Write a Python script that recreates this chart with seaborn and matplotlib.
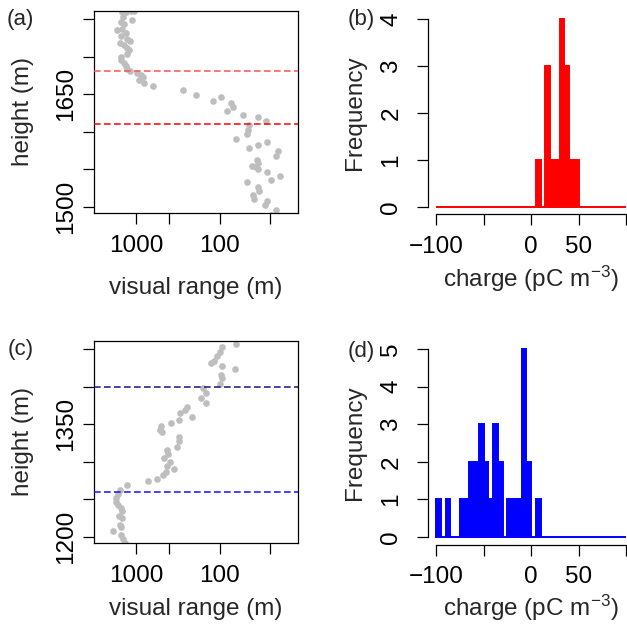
import numpy as np
import pandas as pd
import matplotlib
matplotlib.use("Agg")
import matplotlib.pyplot as plt
import seaborn as sns
from matplotlib.ticker import FixedLocator, NullLocator

# ---------------- data ----------------
# panel (a): visual range (m) vs height (m)
vis_a = [1472, 1340, 1167, 1066, 1432, 1117, 1538, 1403, 1690, 1472,
         1340, 1538, 1282, 1190, 1567, 1403, 1282, 1224, 1282, 1538,
         1513, 1403, 1340, 1282, 1190, 973, 885, 824, 928, 809,
         636, 278, 194, 120, 96, 74, 69, 81, 53, 35,
         28, 45, 46, 47, 63, 45, 35, 27, 20, 21,
         36, 41, 37, 35, 35, 27, 19, 24, 47, 35,
         34, 40, 39, 27, 29, 21, 24]
height_a = [1759, 1759, 1760, 1760, 1753, 1749, 1746, 1743, 1735, 1737,
            1731, 1727, 1724, 1721, 1718, 1715, 1712, 1709, 1704, 1700,
            1696, 1691, 1687, 1684, 1681, 1678, 1675, 1673, 1669, 1665,
            1661, 1655, 1649, 1641, 1646, 1638, 1633, 1627, 1622, 1619,
            1614, 1609, 1603, 1597, 1590, 1578, 1582, 1587, 1574, 1568,
            1563, 1555, 1553, 1558, 1550, 1546, 1541, 1536, 1533, 1526,
            1521, 1516, 1510, 1508, 1503, 1496, 1490]
layers_a = [1681, 1610]

# panel (c)
vis_c = [64, 93, 99, 107, 117, 126, 93, 66, 97, 94,
         99, 157, 147, 166, 147, 249, 263, 299, 213, 308,
         380, 510, 520, 488, 305, 308, 322, 432, 416, 465,
         395, 425, 353, 444, 474, 569, 724, 1304, 1567, 1657,
         1765, 1765, 1657, 1538, 1472, 1611, 1472, 1567, 1538, 1888,
         1538, 1432, 1378]
height_c = [1456, 1452, 1446, 1441, 1434, 1432, 1427, 1423, 1416, 1411,
            1404, 1398, 1391, 1385, 1378, 1373, 1369, 1365, 1360, 1355,
            1351, 1348, 1342, 1339, 1333, 1327, 1319, 1316, 1310, 1305,
            1300, 1294, 1290, 1287, 1283, 1277, 1274, 1269, 1263, 1257,
            1252, 1247, 1243, 1238, 1234, 1228, 1225, 1216, 1213, 1208,
            1203, 1197, 1192]
layers_c = [1400, 1260]

# panel (b) / (d): charge histograms (5 pC m^-3 bins, left edges and counts)
bin_left_b = [5, 15, 20, 25, 30, 35, 40, 45]
counts_b = [1, 3, 1, 1, 4, 3, 1, 1]
bin_left_d = [-100, -90, -75, -70, -65, -60, -55, -50, -45, -40, -35,
              -25, -20, -15, -10, -5, 5]
counts_d = [1, 1, 1, 1, 2, 2, 3, 2, 1, 3, 2, 1, 1, 1, 5, 2, 1]

vis_ticks = [1000, 400, 100, 25]
vis_ticklabels = ["1000", "", "100", ""]
yticks_a = [1500, 1550, 1600, 1650, 1700, 1750]
ylabels_a = ["1500", "", "", "1650", "", ""]
yticks_c = [1200, 1250, 1300, 1350, 1400, 1450]
ylabels_c = ["1200", "", "", "1350", "", ""]
charge_ticks = [-100, -50, 0, 50, 100]
charge_ticklabels = ["\u2212100", "", "0", "50", ""]

# ---------------- style ----------------
sns.set_theme(style="ticks")
plt.rcParams["font.family"] = ["Liberation Sans", "DejaVu Sans"]
plt.rcParams["mathtext.fontset"] = "custom"
plt.rcParams["mathtext.rm"] = "Liberation Sans"
plt.rcParams["mathtext.it"] = "Liberation Sans:italic"
plt.rcParams["mathtext.default"] = "regular"
plt.rcParams["lines.scale_dashes"] = False

FS = 17.5
GRAY = "#bebebe"
W = H = 627

fig = plt.figure(figsize=(6.27, 6.27), dpi=100)
fig.patch.set_facecolor("white")


def pos(l, t, r, b):
    return [l / W, 1 - b / H, (r - l) / W, (b - t) / H]


axA = fig.add_axes(pos(94, 11, 298, 213))
axB = fig.add_axes(pos(428.4, 11.5, 633.6, 214.5))
axC = fig.add_axes(pos(94, 341, 298, 543))
axD = fig.add_axes(pos(428.4, 341.5, 633.6, 544.5))


def scatter_panel(ax, vis, hgt, ylim, yticks, ylabels, layers, colors, xlab_y):
    sns.scatterplot(x=vis, y=hgt, ax=ax, color=GRAY, s=23, linewidth=0,
                    legend=False, zorder=2)
    ax.set_xscale("log")
    ax.set_xlim(10 ** 3.507, 10 ** 1.061)
    ax.set_ylim(*ylim)
    ax.xaxis.set_major_locator(FixedLocator(vis_ticks))
    ax.xaxis.set_minor_locator(NullLocator())
    ax.set_xticklabels(vis_ticklabels)
    ax.yaxis.set_major_locator(FixedLocator(yticks))
    ax.yaxis.set_minor_locator(NullLocator())
    ax.set_yticklabels(ylabels)
    for yv, c in zip(layers, colors):
        ax.axhline(yv, color=c, lw=1.1, ls=(0, (4.8, 2.4)), zorder=3)
    for s in ax.spines.values():
        s.set_linewidth(0.9)
        s.set_color("black")
        s.set_visible(True)
    ax.tick_params(axis="both", direction="out", length=7.7, width=0.9,
                   colors="black", labelsize=FS)
    ax.tick_params(axis="x", pad=8.0)
    ax.tick_params(axis="y", pad=4.8, labelrotation=90)
    for t in ax.get_yticklabels():
        t.set_va("center")
    ax.set_xlabel("visual range (m)", fontsize=FS)
    ax.set_ylabel("height (m)", fontsize=FS)
    ax.xaxis.set_label_coords(0.5, xlab_y)
    ax.yaxis.set_label_coords(-0.294, 0.5)
    ax.set_facecolor("white")


def hist_panel(ax, bin_left, counts, color, ymax, xlab_y):
    lefts = list(range(-100, 100, 5))
    weights = [0.0] * len(lefts)
    for l, c in zip(bin_left, counts):
        weights[lefts.index(l)] = float(c)
    df = pd.DataFrame({"charge": [l + 2.5 for l in lefts], "n": weights})
    sns.histplot(data=df, x="charge", weights="n", binwidth=5,
                 binrange=(-100, 100), ax=ax, color=color, alpha=1,
                 edgecolor=color, linewidth=1.4, stat="count")
    ax.set_xlim(-108, 108)
    ax.set_ylim(-0.04 * ymax, 1.04 * ymax)
    ax.xaxis.set_major_locator(FixedLocator(charge_ticks))
    ax.set_xticklabels(charge_ticklabels)
    ax.yaxis.set_major_locator(FixedLocator(list(range(ymax + 1))))
    ax.set_yticklabels([str(v) for v in range(ymax + 1)])
    ax.spines["top"].set_visible(False)
    ax.spines["right"].set_visible(False)
    ax.spines["left"].set_bounds(0, ymax)
    ax.spines["bottom"].set_bounds(-100, 100)
    for s in ["left", "bottom"]:
        ax.spines[s].set_linewidth(0.9)
        ax.spines[s].set_color("black")
    ax.tick_params(axis="both", direction="out", length=7.7, width=0.9,
                   colors="black", labelsize=FS)
    ax.tick_params(axis="x", pad=8.0)
    ax.tick_params(axis="y", pad=11, labelrotation=90)
    for t in ax.get_yticklabels():
        t.set_va("center")
    ax.set_xlabel("charge (pC m$^{-3}$)", fontsize=FS)
    ax.set_ylabel("Frequency", fontsize=FS)
    ax.xaxis.set_label_coords(0.5, xlab_y)
    ax.yaxis.set_label_coords(-0.304, 0.5)
    ax.set_facecolor("white")
    ax.patch.set_alpha(0)


scatter_panel(axA, vis_a, height_a, (1492, 1760.6), yticks_a, ylabels_a,
              layers_a, ["#ff5252", "#ff0000"], -0.317)
scatter_panel(axC, vis_c, height_c, (1192, 1460.6), yticks_c, ylabels_c,
              layers_c, ["#15157a", "#1010ff"], -0.272)
hist_panel(axB, bin_left_b, counts_b, "#ff0000", 4, -0.245)
hist_panel(axD, bin_left_d, counts_d, "#0000ff", 5, -0.237)

for lab, (x, y) in zip(["(a)", "(b)", "(c)", "(d)"],
                       [(20.5, 19), (361, 19), (20.5, 349), (361, 351)]):
    fig.text(x / W, 1 - y / H, lab, ha="center", va="center", fontsize=16)

fig.savefig("out.png", dpi=100, facecolor="white")
